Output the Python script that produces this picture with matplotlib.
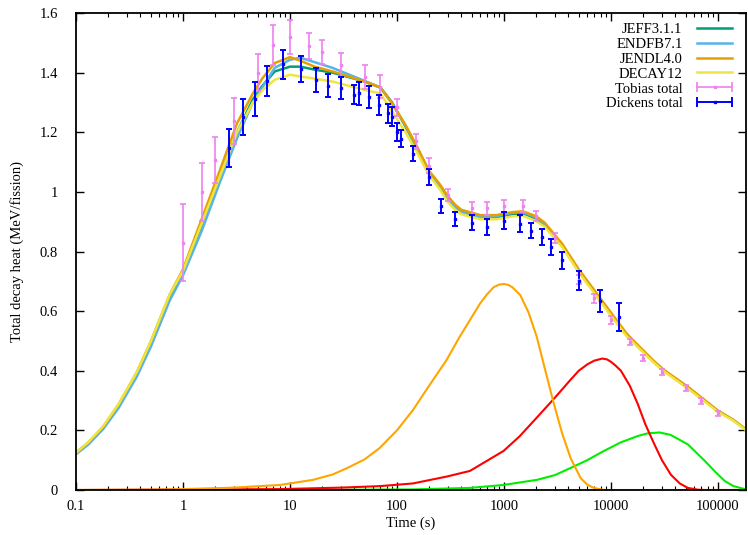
import numpy as np
import matplotlib
matplotlib.use("Agg")
import matplotlib.pyplot as plt
from matplotlib.lines import Line2D
from matplotlib.legend_handler import HandlerLine2D
from matplotlib.ticker import FuncFormatter, FixedLocator, MultipleLocator, NullFormatter

plt.rcParams['font.family'] = ['Liberation Serif', 'DejaVu Serif']

# calculated total decay heat, one curve per library
t_calc = [0.1, 0.13, 0.18, 0.25, 0.37, 0.5, 0.75, 1, 1.5, 2.2,
          3.2, 4.5, 5.5, 7.2, 10, 12.5, 17, 25, 50, 70,
          90, 120, 150, 200, 250, 300, 350, 400, 600, 850,
          1200, 1500, 2000, 2400, 2800, 3500, 5000, 7000, 10000, 14000,
          18000, 25000, 31500, 52500, 75000, 100000, 140000, 200000]
jeff = [0.125, 0.158, 0.212, 0.285, 0.392, 0.495, 0.65, 0.73, 0.89, 1.05,
        1.20, 1.31, 1.355, 1.404, 1.42, 1.42, 1.41, 1.40, 1.37, 1.35,
        1.30, 1.22, 1.155, 1.065, 1.02, 0.975, 0.95, 0.935, 0.915, 0.915,
        0.925, 0.928, 0.91, 0.89, 0.862, 0.82, 0.735, 0.665, 0.59, 0.52,
        0.48, 0.43, 0.40, 0.344, 0.30, 0.265, 0.234, 0.192]
endf = [0.12, 0.152, 0.205, 0.275, 0.38, 0.48, 0.635, 0.72, 0.87, 1.03,
        1.18, 1.30, 1.35, 1.416, 1.443, 1.45, 1.435, 1.416, 1.372, 1.35,
        1.297, 1.222, 1.157, 1.065, 1.022, 0.978, 0.95, 0.932, 0.915, 0.918,
        0.93, 0.932, 0.914, 0.893, 0.864, 0.822, 0.737, 0.667, 0.592, 0.522,
        0.482, 0.432, 0.40, 0.344, 0.30, 0.265, 0.234, 0.192]
jendl = [0.125, 0.158, 0.212, 0.287, 0.395, 0.498, 0.655, 0.74, 0.91, 1.07,
         1.23, 1.33, 1.38, 1.432, 1.452, 1.44, 1.42, 1.404, 1.37, 1.35,
         1.297, 1.225, 1.16, 1.07, 1.027, 0.985, 0.957, 0.94, 0.922, 0.922,
         0.932, 0.935, 0.918, 0.897, 0.868, 0.826, 0.74, 0.67, 0.595, 0.525,
         0.485, 0.434, 0.402, 0.346, 0.302, 0.266, 0.235, 0.193]
decay12 = [0.125, 0.16, 0.215, 0.288, 0.395, 0.498, 0.655, 0.735, 0.895, 1.05,
           1.20, 1.30, 1.34, 1.376, 1.393, 1.387, 1.38, 1.37, 1.342, 1.33,
           1.27, 1.20, 1.14, 1.055, 1.01, 0.965, 0.94, 0.925, 0.908, 0.908,
           0.918, 0.92, 0.902, 0.883, 0.855, 0.815, 0.73, 0.66, 0.585, 0.516,
           0.478, 0.428, 0.397, 0.34, 0.297, 0.262, 0.232, 0.19]

# component humps
t_orange = [0.1, 0.5, 1, 3, 8.1, 16.4, 25, 34, 50, 69,
            100, 141, 200, 291, 380, 481, 597, 690, 800, 900,
            1000, 1100, 1200, 1420, 1700, 2030, 2400, 2930, 3500, 4200,
            5210, 6000, 6930, 8650, 200000]
y_orange = [0, 0.001, 0.003, 0.008, 0.017, 0.034, 0.052, 0.073, 0.103, 0.141,
            0.20, 0.268, 0.35, 0.436, 0.51, 0.57, 0.625, 0.655, 0.68, 0.689,
            0.691, 0.688, 0.68, 0.654, 0.595, 0.513, 0.41, 0.289, 0.19, 0.107,
            0.04, 0.018, 0.007, 0, 0]
t_red = [0.1, 8, 30, 69, 141, 291, 481, 597, 992, 1400,
         2030, 3000, 4200, 5000, 6050, 7000, 8320, 9200, 10000, 11000,
         12400, 15000, 17800, 21000, 25500, 30000, 36400, 44000, 52400, 65000,
         75700, 200000]
y_red = [0, 0.003, 0.008, 0.013, 0.022, 0.045, 0.064, 0.084, 0.131, 0.18,
         0.243, 0.31, 0.37, 0.4, 0.422, 0.434, 0.441, 0.438, 0.43, 0.418,
         0.40, 0.35, 0.289, 0.22, 0.153, 0.10, 0.051, 0.022, 0.007, 0.001,
         0, 0]
t_green = [0.1, 10, 141, 481, 992, 2030, 3000, 4200, 6000, 8600,
           12400, 17800, 22000, 28500, 36000, 43000, 52400, 63000, 75700, 95000,
           116000, 140000, 179000, 200000]
y_green = [0, 0, 0.002, 0.007, 0.017, 0.034, 0.05, 0.074, 0.10, 0.131,
           0.16, 0.181, 0.19, 0.193, 0.185, 0.17, 0.153, 0.125, 0.097, 0.06,
           0.03, 0.013, 0.003, 0]

# measurements
t_tob = [1, 1.5, 2, 3, 5, 7, 10, 15, 20, 30, 50, 70, 100, 150, 200, 300, 500,
         700, 1000, 1500, 2000, 3000, 5000, 7000, 10000, 15000, 20000, 30000,
         50000, 70000, 100000]
y_tob = [0.83, 0.999, 1.107, 1.238, 1.40, 1.493, 1.519, 1.49, 1.469, 1.426,
         1.385, 1.353, 1.284, 1.169, 1.088, 0.99, 0.945, 0.945, 0.953, 0.953,
         0.92, 0.845, 0.706, 0.643, 0.57, 0.497, 0.444, 0.396, 0.341, 0.298, 0.257]
e_tob = [0.13, 0.098, 0.078, 0.077, 0.063, 0.067, 0.056, 0.044, 0.041, 0.039,
         0.039, 0.039, 0.028, 0.025, 0.025, 0.02, 0.022, 0.022, 0.02, 0.02,
         0.017, 0.018, 0.015, 0.015, 0.012, 0.01, 0.01, 0.01, 0.01, 0.01, 0.008]

t_dick = [2.71, 3.66, 4.7, 6.13, 8.65, 12.7, 17.5, 22.8, 29.9, 39.7, 44.4,
          54.3, 68.4, 83.3, 90.5, 101, 110, 141, 198, 258, 351, 503, 698,
          1000, 1400, 1800, 2270, 2750, 3480, 5040, 7900, 11800]
y_dick = [1.147, 1.251, 1.311, 1.372, 1.428, 1.413, 1.375, 1.356, 1.348,
          1.326, 1.331, 1.318, 1.292, 1.264, 1.252, 1.201, 1.178, 1.128, 1.051,
          0.953, 0.908, 0.897, 0.882, 0.903, 0.893, 0.87, 0.848, 0.814, 0.77,
          0.702, 0.634, 0.58]
e_dick = [0.064, 0.06, 0.057, 0.05, 0.049, 0.044, 0.041, 0.038, 0.036, 0.031,
          0.038, 0.036, 0.034, 0.032, 0.032, 0.029, 0.028, 0.026, 0.027, 0.023,
          0.023, 0.025, 0.028, 0.028, 0.028, 0.026, 0.027, 0.027, 0.029, 0.031,
          0.036, 0.046]

x_ticks = [0.1, 1, 10, 100, 1000, 10000, 100000]

fig = plt.figure(figsize=(7.48, 5.35), dpi=100)
ax = fig.add_axes([0.1016, 0.0841, 0.8957, 0.8916])

l1, = ax.plot(t_calc, jeff, color="#009E73", lw=1.8)
l2, = ax.plot(t_calc, endf, color="#56B4E9", lw=1.8)
l3, = ax.plot(t_calc, jendl, color="#E69F00", lw=1.8)
l4, = ax.plot(t_calc, decay12, color="#F0E442", lw=1.8)

ax.errorbar(t_tob, y_tob, yerr=e_tob, fmt='s', ms=2, color="#EE82EE",
            elinewidth=1.2, capsize=2.5, capthick=1.2)
ax.errorbar(t_dick, y_dick, yerr=e_dick, fmt='s', ms=2, color="#0000FF",
            elinewidth=1.4, capsize=2.5, capthick=1.4)

ax.plot(t_green, y_green, color="#00EE00", lw=1.5)
ax.plot(t_red, y_red, color="#FF0000", lw=1.5)
ax.plot(t_orange, y_orange, color="#FFA500", lw=1.5)

ax.set_xscale('log')
ax.set_xlim(0.1, 1.83e5)
ax.set_ylim(0, 1.6)
ax.yaxis.set_major_locator(MultipleLocator(0.2))
fmt = FuncFormatter(lambda v, p: "%g" % v)
ax.xaxis.set_major_locator(FixedLocator(x_ticks))
minor = [m * d for d in x_ticks for m in range(2, 10) if m * d < 1.83e5]
ax.xaxis.set_minor_locator(FixedLocator(minor))
ax.xaxis.set_major_formatter(fmt)
ax.yaxis.set_major_formatter(fmt)
ax.xaxis.set_minor_formatter(NullFormatter())
ax.tick_params(which='both', direction='in', top=True, right=True, labelsize=10.5)
ax.tick_params(which='major', length=6, width=1)
ax.tick_params(which='minor', length=3, width=0.8)
ax.tick_params(axis='x', pad=7)
ax.tick_params(axis='y', pad=13)
for s in ax.spines.values():
    s.set_linewidth(1.3)

ax.set_xlabel("Time (s)", fontsize=10.5, labelpad=3)
ax.set_ylabel("Total decay heat (MeV/fission)", fontsize=10.5, labelpad=11)

# legend: errorbar entries drawn as horizontal bar with end caps and centre dot
tob_bar = Line2D([], [], color="#EE82EE", lw=1.2, marker='|', ms=7, mew=1.2)
tob_dot = Line2D([], [], color="#EE82EE", ls='none', marker='s', ms=2)
dick_bar = Line2D([], [], color="#0000FF", lw=1.4, marker='|', ms=7, mew=1.4)
dick_dot = Line2D([], [], color="#0000FF", ls='none', marker='s', ms=2)
handles = [l1, l2, l3, l4, (tob_bar, tob_dot), (dick_bar, dick_dot)]
labels = ["JEFF3.1.1", "ENDFB7.1", "JENDL4.0", "DECAY12", "Tobias total", "Dickens total"]
leg = ax.legend(handles, labels, loc='upper right', markerfirst=False, frameon=False,
                fontsize=10.5, handlelength=3.0, labelspacing=0.12,
                borderaxespad=0.25, handletextpad=0.7, numpoints=2,
                handler_map={tob_dot: HandlerLine2D(numpoints=1),
                             dick_dot: HandlerLine2D(numpoints=1)})

fig.savefig("out.png", dpi=100)
